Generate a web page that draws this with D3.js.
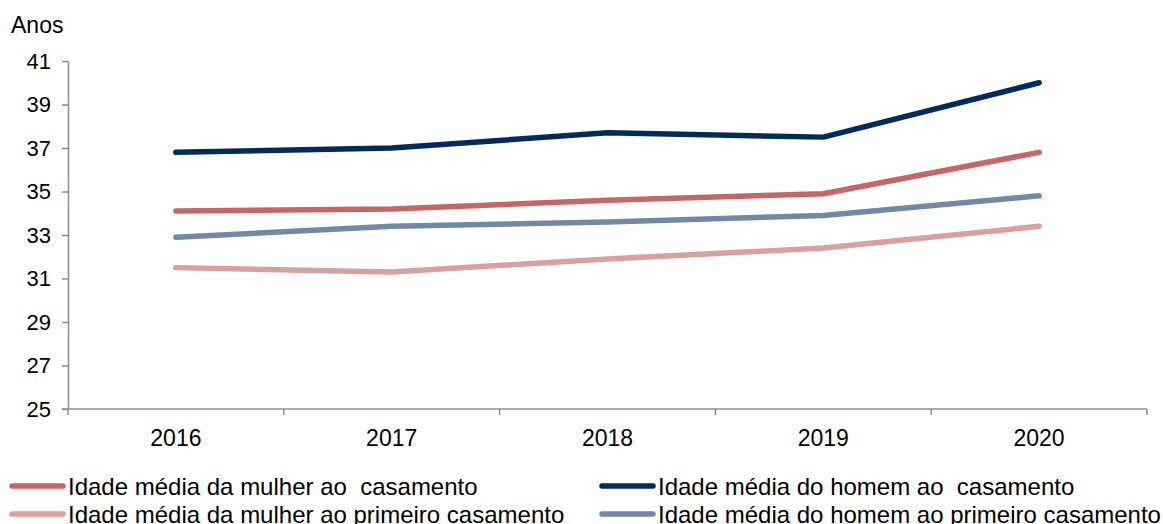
<!DOCTYPE html>
<html>
<head>
<meta charset="utf-8">
<script src="https://cdn.jsdelivr.net/npm/d3@7"></script>
<style>
  html, body { margin: 0; padding: 0; background: #fff; }
  svg { display: block; font-family: "Liberation Sans", Arial, sans-serif; }
  .leg { white-space: pre; }
</style>
</head>
<body>
<svg id="chart" width="1163" height="524"></svg>
<script>
// Mean age at marriage, by sex (years)
const years = ["2016", "2017", "2018", "2019", "2020"];
const mulherCasamento        = [34.1, 34.2, 34.6, 34.9, 36.8];
const homemCasamento         = [36.8, 37.0, 37.7, 37.5, 40.0];
const mulherPrimeiroCasamento = [31.5, 31.3, 31.9, 32.4, 33.4];
const homemPrimeiroCasamento  = [32.9, 33.4, 33.6, 33.9, 34.8];
const yTicks = [25, 27, 29, 31, 33, 35, 37, 39, 41];

const series = [
  { name: "Idade média da mulher ao  casamento", values: mulherCasamento, color: "#c96565" },
  { name: "Idade média do homem ao  casamento", values: homemCasamento, color: "#002b5c" },
  { name: "Idade média da mulher ao primeiro casamento", values: mulherPrimeiroCasamento, color: "#dc9f9f" },
  { name: "Idade média do homem ao primeiro casamento", values: homemPrimeiroCasamento, color: "#7189a7" }
];

const svg = d3.select("#chart");
const plotLeft = 68, plotRight = 1147, plotTop = 61, plotBottom = 409;

const x = d3.scaleBand().domain(years).range([plotLeft, plotRight]).padding(0);
const y = d3.scaleLinear().domain([25, 41]).range([plotBottom, plotTop]);

const axisColor = "#8c8c8c";

// Y axis
const yAxis = svg.append("g")
  .attr("transform", `translate(${plotLeft},0)`)
  .call(d3.axisLeft(y).tickValues(yTicks).tickSize(6).tickSizeOuter(0).tickPadding(11));
yAxis.select(".domain").attr("stroke", axisColor).attr("stroke-width", 1.5);
yAxis.selectAll(".tick line").attr("stroke", axisColor).attr("stroke-width", 1.5);
yAxis.selectAll(".tick text")
  .attr("font-size", 22).attr("fill", "#000")
  .attr("font-family", "Liberation Sans, Arial, sans-serif");

// X axis: ticks at category boundaries
const xAxisG = svg.append("g").attr("transform", `translate(0,${plotBottom})`);
xAxisG.append("line")
  .attr("x1", plotLeft - 6).attr("x2", plotRight)
  .attr("y1", 0).attr("y2", 0)
  .attr("stroke", axisColor).attr("stroke-width", 1.5);
const boundaries = years.map(d => x(d)).concat([x(years[years.length - 1]) + x.bandwidth()]);
xAxisG.selectAll("line.b").data(boundaries).enter().append("line")
  .attr("class", "b")
  .attr("x1", d => d).attr("x2", d => d)
  .attr("y1", 0).attr("y2", 6)
  .attr("stroke", axisColor).attr("stroke-width", 1.5);
xAxisG.selectAll("text").data(years).enter().append("text")
  .attr("x", d => x(d) + x.bandwidth() / 2)
  .attr("y", 37)
  .attr("text-anchor", "middle")
  .attr("font-size", 23)
  .attr("fill", "#000")
  .text(d => d);

// Unit label
svg.append("text")
  .attr("x", 11).attr("y", 33)
  .attr("font-size", 23).attr("fill", "#000")
  .text("Anos");

// Lines
const line = d3.line()
  .x((d, i) => x(years[i]) + x.bandwidth() / 2)
  .y(d => y(d));

svg.append("g").selectAll("path").data(series).enter().append("path")
  .attr("d", d => line(d.values))
  .attr("fill", "none")
  .attr("stroke", d => d.color)
  .attr("stroke-width", 5.5)
  .attr("stroke-linecap", "round")
  .attr("stroke-linejoin", "round");

// Legend (two columns, two rows)
const legPos = [
  { lx: 12, ly: 486 },
  { lx: 602, ly: 486 },
  { lx: 12, ly: 514 },
  { lx: 602, ly: 514 }
];
const leg = svg.append("g").selectAll("g").data(series).enter().append("g")
  .attr("transform", (d, i) => `translate(${legPos[i].lx},${legPos[i].ly})`);
leg.append("line")
  .attr("x1", 0).attr("x2", 51)
  .attr("y1", 0).attr("y2", 0)
  .attr("stroke", d => d.color)
  .attr("stroke-width", 5.5)
  .attr("stroke-linecap", "round");
leg.append("text")
  .attr("class", "leg")
  .attr("x", 56).attr("y", 8.5)
  .attr("font-size", 24)
  .attr("fill", "#000")
  .text(d => d.name);
</script>
</body>
</html>
